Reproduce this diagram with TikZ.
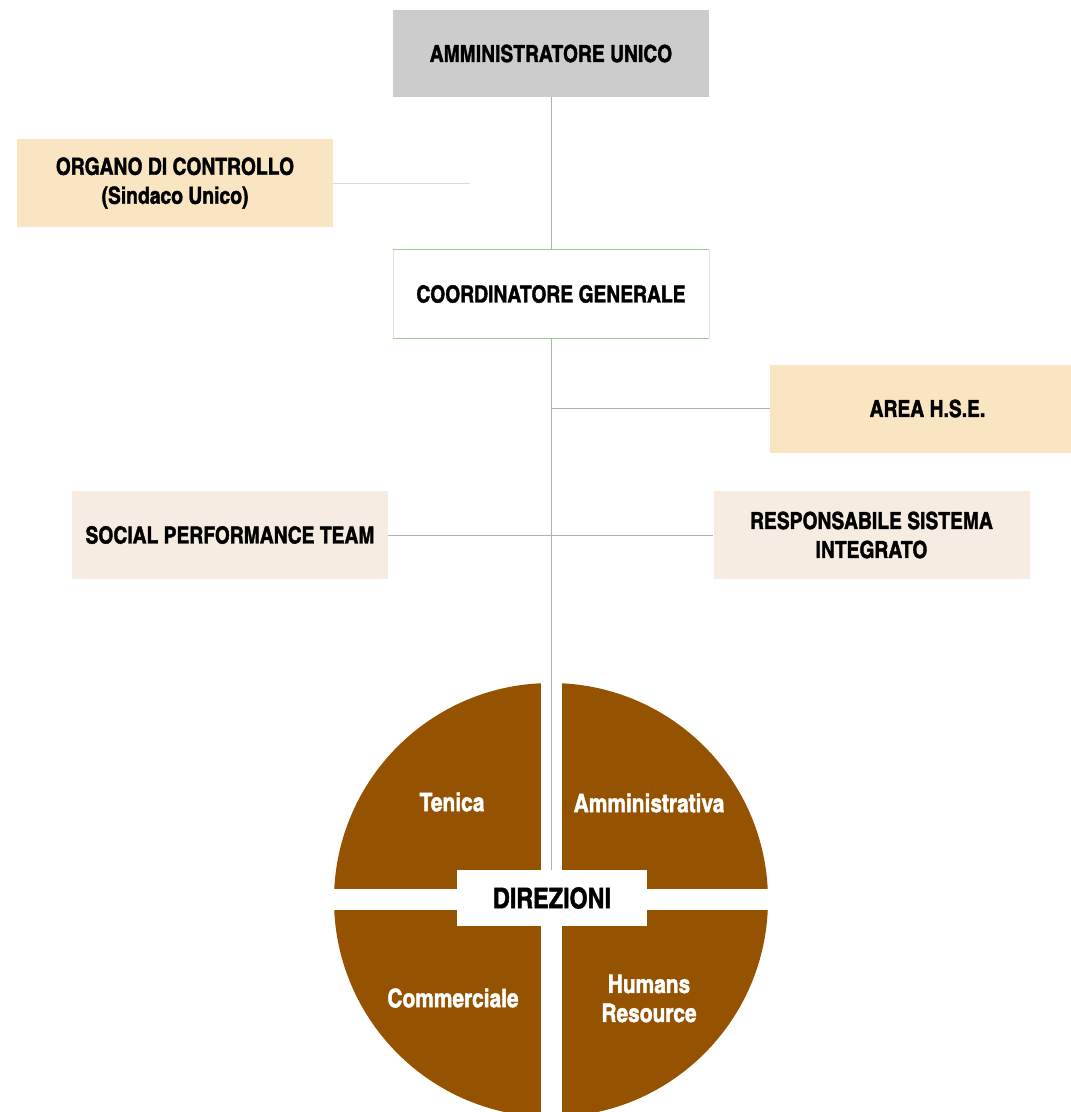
\documentclass[tikz,border=0pt]{standalone}
\usepackage{fontspec}
\setmainfont{TeX Gyre Heros Cn}[BoldFeatures={FakeBold=1.6}]
\usetikzlibrary{positioning}
\definecolor{boxgray}{HTML}{CCCCCC}
\definecolor{wheatbox}{HTML}{FAE5C2}
\definecolor{linenbox}{HTML}{F6ECE2}
\definecolor{brownq}{HTML}{955200}
\definecolor{greenline}{HTML}{9CCB8C}
\definecolor{connline}{HTML}{B0B0B0}
\tikzset{
  orgbox/.style={rectangle, inner sep=0pt, align=center, font=\fontsize{23.5}{29}\selectfont\bfseries},
  conn/.style={draw=connline, line width=1pt},
  qlabel/.style={align=center, text=white, font=\fontsize{25.5}{29}\selectfont\bfseries},
}
\begin{document}
\begin{tikzpicture}[x=1pt,y=-1pt]
\useasboundingbox (0,0) rectangle (1071,1112);
% boxes
\node[orgbox, fill=boxgray, minimum width=316pt, minimum height=87pt] (amm) at (551,53.5) {AMMINISTRATORE UNICO};
\node[orgbox, fill=wheatbox, minimum width=316pt, minimum height=88pt] (org) at (175,183) {ORGANO DI CONTROLLO\\(Sindaco Unico)};
\node[orgbox, fill=white, minimum width=316pt, minimum height=88pt] (coord) at (551,294) {COORDINATORE GENERALE};
\draw[greenline!40, line width=0.6pt] (coord.north west) -- (coord.south west) (coord.north east) -- (coord.south east);
\draw[greenline, line width=1pt] (coord.north west) -- (coord.north east) (coord.south west) -- (coord.south east);
\node[orgbox, fill=wheatbox, minimum width=301pt, minimum height=88pt] (hse) at (920.5,408.5) {\hspace*{14pt}AREA H.S.E.};
\node[orgbox, fill=linenbox, minimum width=316pt, minimum height=88pt] (spt) at (230,535) {SOCIAL PERFORMANCE TEAM};
\node[orgbox, fill=linenbox, minimum width=316pt, minimum height=88pt] (rsi) at (871.5,535) {RESPONSABILE SISTEMA\\INTEGRATO};
% circle quadrants
\begin{scope}
\clip (551,900) circle (217);
\fill[brownq] (300,660) rectangle (540.5,889);
\fill[brownq] (561.5,660) rectangle (800,889);
\fill[brownq] (300,910) rectangle (540.5,1140);
\fill[brownq] (561.5,910) rectangle (800,1140);
\end{scope}
\node[qlabel] (ten) at (452,802) {Tenica};
\node[qlabel] (amv) at (649,803) {Amministrativa};
\node[qlabel] (com) at (453,998) {Commerciale};
\node[qlabel] (hum) at (649,998.5) {Humans\\Resource};
% connectors
\coordinate (orgEnd) at (470,183);
\coordinate (hseJ) at (551,408.5);
\draw[conn] (amm.south) -- (coord.north);
\draw[conn, draw=connline!45] (org.east) -- (orgEnd);
\draw[conn] (coord.south) -- (551,872);
\draw[conn] (hseJ) -- (hse.west);
\draw[conn] (spt.east) -- (rsi.west);
\node[orgbox, fill=white, minimum width=190pt, minimum height=56pt, font=\fontsize{28.5}{30}\selectfont\bfseries] (dir) at (552,898) {DIREZIONI};
\end{tikzpicture}
\end{document}
